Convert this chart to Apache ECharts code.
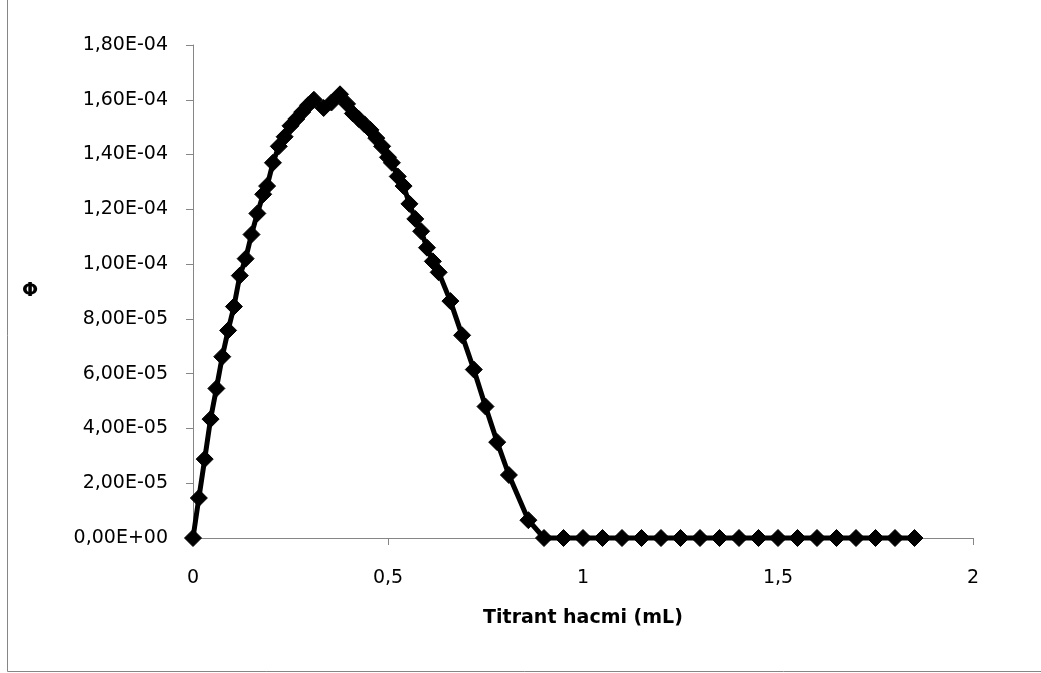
<!DOCTYPE html>
<html>
<head>
<meta charset="utf-8">
<title>Φ – Titrant hacmi</title>
<script src="https://cdn.jsdelivr.net/npm/echarts@6/dist/echarts.min.js"></script>
<style>
  html, body { margin: 0; padding: 0; background: #ffffff; }
  #chart { width: 1041px; height: 673px; }
</style>
</head>
<body>
<div id="chart"></div>
<script>
// Titrant volume (mL)
const volume = [
  0, 0.015, 0.03, 0.045, 0.06, 0.075, 0.09, 0.105, 0.12, 0.135,
  0.15, 0.165, 0.18, 0.19, 0.205, 0.22, 0.235, 0.25, 0.265, 0.28,
  0.295, 0.31, 0.335, 0.355, 0.377, 0.395, 0.41, 0.425, 0.44, 0.455,
  0.47, 0.485, 0.50, 0.51, 0.525, 0.54, 0.555, 0.57, 0.585, 0.60,
  0.615, 0.63, 0.66, 0.69, 0.72, 0.75, 0.78, 0.81, 0.86, 0.90,
  0.95, 1.00, 1.05, 1.10, 1.15, 1.20, 1.25, 1.30, 1.35, 1.40,
  1.45, 1.50, 1.55, 1.60, 1.65, 1.70, 1.75, 1.80, 1.85
];
// Φ values (units of 1E-05)
const phiE5 = [
  0, 1.46, 2.88, 4.34, 5.46, 6.62, 7.58, 8.45, 9.58, 10.2,
  11.08, 11.85, 12.55, 12.85, 13.7, 14.3, 14.65, 15.05, 15.3, 15.55,
  15.8, 16.0, 15.7, 15.9, 16.2, 15.85, 15.5, 15.3, 15.1, 14.9,
  14.6, 14.3, 13.9, 13.7, 13.2, 12.85, 12.2, 11.65, 11.2, 10.6,
  10.1, 9.7, 8.65, 7.4, 6.15, 4.8, 3.5, 2.3, 0.65, 0,
  0, 0, 0, 0, 0, 0, 0, 0, 0, 0,
  0, 0, 0, 0, 0, 0, 0, 0, 0
];
// Axis settings
const xTicks = [0, 0.5, 1, 1.5, 2];
const yMax = 1.8e-4;
const yStep = 2e-5;

const points = volume.map((v, i) => [v, phiE5[i] * 1e-5]);

// "1,80E-04" style scientific labels with decimal comma
function sciLabel(v) {
  if (Math.abs(v) < 1e-12) return '0,00E+00';
  const s = v.toExponential(2);
  const [m, e] = s.split('e');
  const n = parseInt(e, 10);
  const sign = n < 0 ? '-' : '+';
  const ee = String(Math.abs(n)).padStart(2, '0');
  return m.replace('.', ',') + 'E' + sign + ee;
}

const axisGray = '#868686';
const font = '"DejaVu Sans", Verdana, sans-serif';

const chart = echarts.init(document.getElementById('chart'), null, { renderer: 'canvas' });
chart.setOption({
  animation: false,
  backgroundColor: '#ffffff',
  grid: { left: 193, right: 68, top: 45, bottom: 135 },
  graphic: [{
    type: 'polyline',
    shape: { points: [[7.5, -2], [7.5, 671.5], [1045, 671.5]] },
    style: { stroke: axisGray, fill: null, lineWidth: 1 },
    silent: true
  }],
  xAxis: {
    type: 'value',
    min: xTicks[0],
    max: xTicks[xTicks.length - 1],
    interval: xTicks[1] - xTicks[0],
    name: 'Titrant hacmi (mL)',
    nameLocation: 'middle',
    nameGap: 71,
    nameTextStyle: { fontFamily: font, fontSize: 19, fontWeight: 'bold', color: '#000' },
    axisLine: { show: true, lineStyle: { color: axisGray, width: 1 } },
    axisTick: { show: true, inside: false, length: 7, lineStyle: { color: axisGray } },
    axisLabel: {
      margin: 31, fontFamily: font, fontSize: 19, color: '#000',
      formatter: v => String(v).replace('.', ',')
    },
    splitLine: { show: false }
  },
  yAxis: {
    type: 'value',
    min: 0,
    max: yMax,
    interval: yStep,
    name: 'Φ',
    nameLocation: 'middle',
    nameRotate: 0,
    nameGap: 163,
    nameTextStyle: { fontFamily: font, fontSize: 19, fontWeight: 'bold', color: '#000', align: 'center', verticalAlign: 'middle' },
    axisLine: { show: true, lineStyle: { color: axisGray, width: 1 } },
    axisTick: { show: true, inside: false, length: 7, lineStyle: { color: axisGray } },
    axisLabel: { margin: 25, fontFamily: font, fontSize: 19, color: '#000', formatter: sciLabel },
    splitLine: { show: false }
  },
  series: [{
    type: 'line',
    data: points,
    symbol: 'diamond',
    symbolSize: 17,
    showAllSymbol: true,
    lineStyle: { color: '#000000', width: 5 },
    itemStyle: { color: '#000000', borderColor: '#000000', borderWidth: 1 },
    clip: false
  }]
});
</script>
</body>
</html>
